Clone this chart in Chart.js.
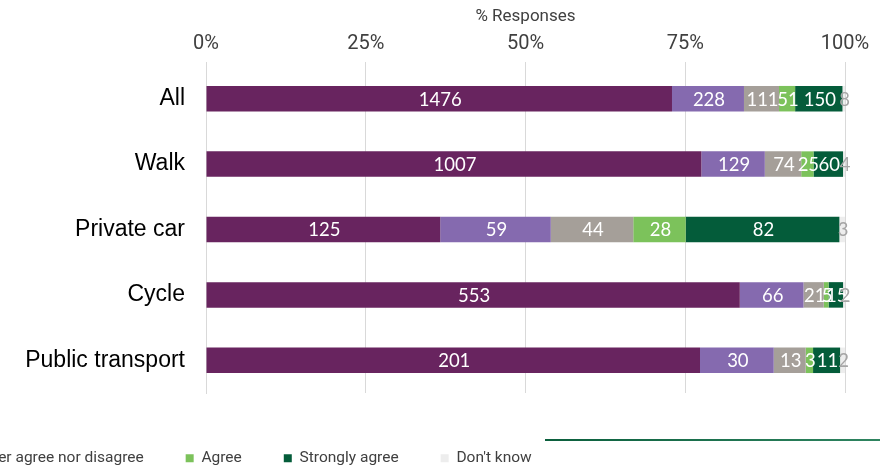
<!DOCTYPE html>
<html>
<head>
<meta charset="utf-8">
<script src="https://cdn.jsdelivr.net/npm/chart.js@4.4.0/dist/chart.umd.min.js"></script>
<style>
  html, body { margin: 0; padding: 0; background: #fff; }
  #wrap { position: relative; width: 880px; height: 470px; overflow: hidden; }
  /* the original is a crop of a wider slide, so the canvas runs off the left edge */
  #chart { position: absolute; left: -392px; top: 0; }
</style>
</head>
<body>
<div id="wrap"><canvas id="chart" width="1272" height="476"></canvas></div>
<script>
// ----- data -----
const categories = ['All', 'Walk', 'Private car', 'Cycle', 'Public transport'];
const seriesNames = ['Strongly disagree', 'Disagree', 'Neither agree nor disagree', 'Agree', 'Strongly agree', "Don't know"];

const stronglyDisagree = [1476, 1007, 125, 553, 201];
const disagree         = [228, 129, 59, 66, 30];
const neither          = [111, 74, 44, 21, 13];
const agree            = [51, 25, 28, 5, 3];
const stronglyAgree    = [150, 60, 82, 15, 11];
const dontKnow         = [8, 4, 3, 2, 2];

const xTickValues = [0, 25, 50, 75, 100];

const colors = ['#68245f', '#856aaf', '#a59f99', '#7cc25b', '#045c3a', '#ededed'];
const labelColors = ['#fff', '#fff', '#fff', '#fff', '#fff', '#a6a6a6'];

const SANS = "Roboto, sans-serif";

// ----- build percent table -----
const allSeries = [stronglyDisagree, disagree, neither, agree, stronglyAgree, dontKnow];
const totals = categories.map((_, i) => allSeries.reduce((s, arr) => s + arr[i], 0));

const datasets = allSeries.map((arr, k) => ({
    label: seriesNames[k],
    data: arr.map((v, i) => v / totals[i] * 100),
    counts: arr,
    labelColor: labelColors[k],
    backgroundColor: colors[k],
    borderWidth: 0,
    categoryPercentage: 0.39,
    barPercentage: 1
}));

// ----- plugins -----
const valueLabels = {
    id: 'valueLabels',
    afterDatasetsDraw(chart) {
        const ctx = chart.ctx;
        ctx.save();
        ctx.font = '18.5px Lato';
        ctx.textAlign = 'center';
        ctx.textBaseline = 'middle';
        chart.data.datasets.forEach((ds, i) => {
            const meta = chart.getDatasetMeta(i);
            meta.data.forEach((bar, j) => {
                ctx.fillStyle = ds.labelColor;
                ctx.fillText(String(ds.counts[j]), (bar.x + bar.base) / 2 + 1, bar.y + 1);
            });
        });
        ctx.restore();
    }
};

// green rule from the slide footer
const footerRule = {
    id: 'footerRule',
    afterDraw(chart) {
        const ctx = chart.ctx;
        const x0 = chart.width - 335;
        const x1 = chart.width;
        const g = ctx.createLinearGradient(x0, 0, x1, 0);
        g.addColorStop(0, '#0b5f3d');
        g.addColorStop(1, '#2f8460');
        ctx.save();
        ctx.strokeStyle = g;
        ctx.lineWidth = 2;
        ctx.beginPath();
        ctx.moveTo(x0, 440);
        ctx.lineTo(x1, 440);
        ctx.stroke();
        ctx.restore();
    }
};

// ----- chart -----
new Chart(document.getElementById('chart'), {
    type: 'bar',
    data: { labels: categories, datasets: datasets },
    plugins: [valueLabels, footerRule],
    options: {
        indexAxis: 'y',
        responsive: false,
        animation: false,
        layout: { padding: { left: 0, right: 35, top: 0, bottom: 0 } },
        plugins: {
            tooltip: { enabled: false },
            legend: {
                position: 'bottom',
                align: 'start',
                labels: {
                    color: '#404040',
                    font: { family: SANS, size: 15.5 },
                    usePointStyle: true,
                    pointStyle: 'rect',
                    pointStyleWidth: 8,
                    boxWidth: 8,
                    boxHeight: 8,
                    padding: 42
                }
            }
        },
        scales: {
            x: {
                position: 'top',
                stacked: true,
                min: 0,
                max: 100,
                afterBuildTicks: (s) => { s.ticks = xTickValues.map(v => ({ value: v })); },
                afterFit: (s) => { s.height = 66; },
                ticks: {
                    padding: 6,
                    color: '#404040',
                    font: { family: SANS, size: 20 },
                    callback: (v) => v + '%'
                },
                grid: { color: '#d9d9d9', lineWidth: 1, drawTicks: true, tickLength: 4 },
                border: { display: false },
                title: {
                    display: true,
                    text: '% Responses',
                    color: '#404040',
                    font: { family: SANS, size: 17 },
                    padding: { top: 7, bottom: 0 }
                }
            },
            xb: {
                type: 'linear',
                position: 'bottom',
                display: true,
                grid: { display: false, drawTicks: false },
                ticks: { display: false },
                border: { display: false },
                afterFit: (s) => { s.height = 15.5; }
            },
            y: {
                stacked: true,
                afterFit: (s) => { s.width = 598; },
                grid: { display: false, drawTicks: false },
                border: { display: true, color: '#d9d9d9' },
                ticks: {
                    padding: 21,
                    color: '#000',
                    font: { family: "'Liberation Sans', Arial, sans-serif", size: 23 }
                }
            }
        }
    }
});
</script>
</body>
</html>
